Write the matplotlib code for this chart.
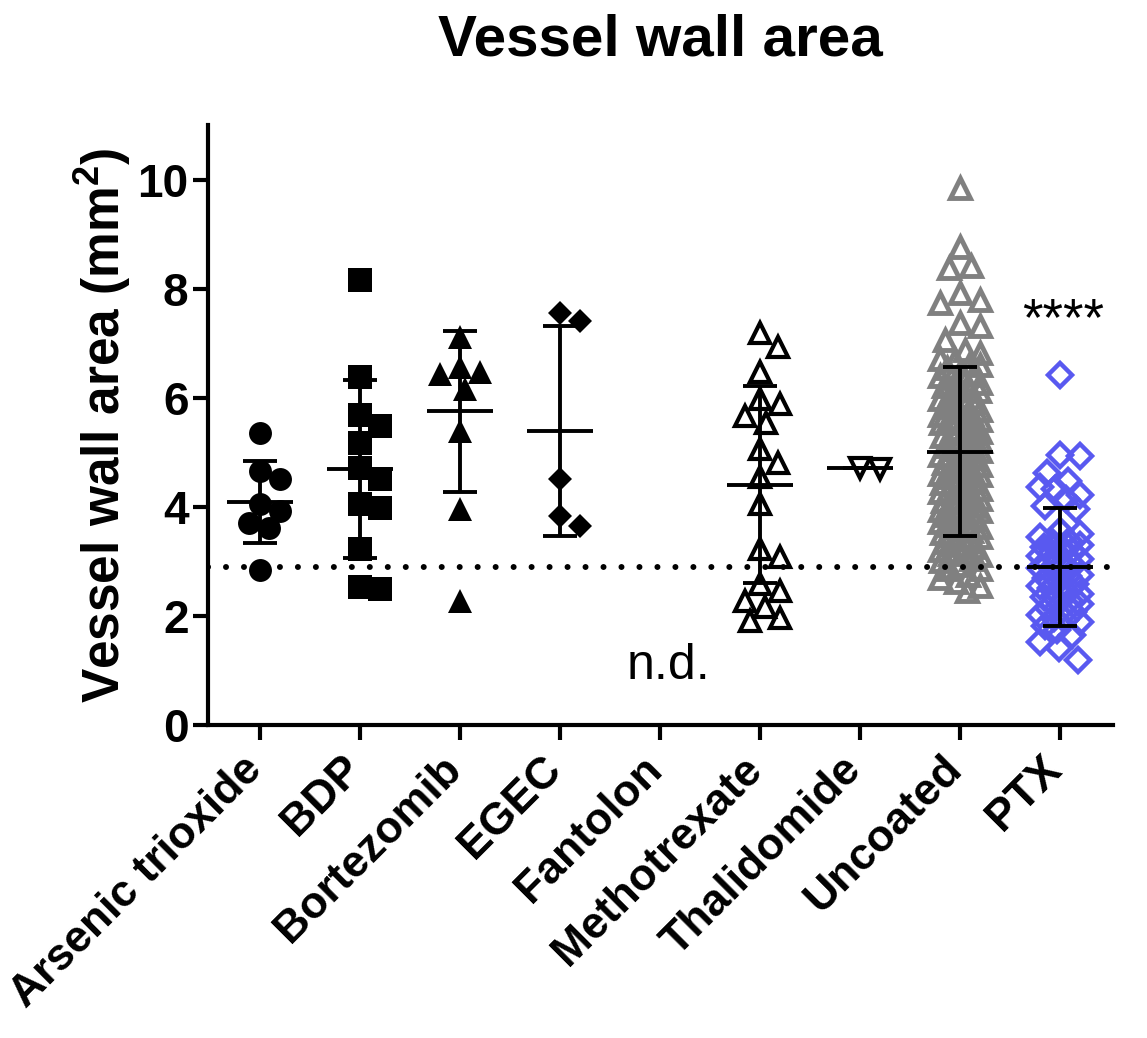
import numpy as np
import matplotlib.pyplot as plt
from matplotlib.transforms import ScaledTranslation

plt.rcParams['font.family'] = ['Liberation Sans', 'DejaVu Sans']
plt.rcParams['mathtext.fontset'] = 'custom'
plt.rcParams['mathtext.bf'] = 'Liberation Sans:bold'
plt.rcParams['mathtext.rm'] = 'Liberation Sans:bold'
plt.rcParams['mathtext.default'] = 'bf'

groups = ["Arsenic trioxide", "BDP", "Bortezomib", "EGEC", "Fantolon",
          "Methotrexate", "Thalidomide", "Uncoated", "PTX"]

arsenic = [5.36, 4.66, 4.51, 4.05, 3.92, 3.70, 3.61, 2.84]
bdp = [8.16, 6.38, 5.69, 5.49, 5.17, 4.71, 4.51, 4.05, 3.98, 3.22, 2.54, 2.49]
bortezomib = [7.11, 6.56, 6.47, 6.44, 6.17, 5.40, 3.96, 2.27]
egec = [7.55, 7.40, 4.51, 3.83, 3.65]
fantolon = []
methotrexate = [7.18, 6.93, 6.47, 5.98, 5.89, 5.67, 5.54, 5.06, 4.81, 4.55,
                4.05, 3.22, 3.09, 2.58, 2.45, 2.27, 2.17, 1.96, 1.90]
thalidomide = [4.70, 4.72]
uncoated = [9.85, 8.77, 8.42, 8.38, 7.92, 7.79, 7.74, 7.37, 7.32, 7.06,
            6.88, 6.83, 6.71, 6.69, 6.60, 6.55, 6.48, 6.41, 6.40, 6.33,
            6.27, 6.22, 6.19, 6.12, 6.04, 6.01, 5.97, 5.93, 5.85, 5.84,
            5.78, 5.71, 5.69, 5.62, 5.55, 5.53, 5.47, 5.42, 5.38, 5.30,
            5.29, 5.24, 5.16, 5.12, 5.10, 5.03, 4.98, 4.95, 4.90, 4.84,
            4.80, 4.77, 4.70, 4.66, 4.61, 4.58, 4.52, 4.47, 4.44, 4.38,
            4.33, 4.31, 4.25, 4.20, 4.16, 4.11, 4.07, 4.01, 3.98, 3.92,
            3.87, 3.85, 3.79, 3.72, 3.70, 3.64, 3.58, 3.52, 3.49, 3.41,
            3.36, 3.27, 3.21, 3.13, 3.12, 3.01, 2.94, 2.87, 2.86, 2.76,
            2.69, 2.63, 2.55, 2.46,
            6.63, 6.36, 6.14, 5.91, 5.74, 5.59, 5.33, 5.20, 5.06, 4.93,
            4.86, 4.73, 4.55, 4.41, 4.28, 4.14, 3.95, 3.81, 3.67, 3.55,
            3.44, 3.30, 3.17, 3.05]
ptx = [6.41, 4.95, 4.93, 4.62, 4.47, 4.36, 4.33, 4.21, 4.15, 4.02, 3.97,
       3.55, 3.51, 3.44, 3.38, 3.30, 3.27, 3.24, 3.15, 3.10, 3.05, 2.98,
       2.93, 2.88, 2.81, 2.76, 2.70, 2.64, 2.58, 2.52, 2.47, 2.41, 2.35,
       2.28, 2.22, 2.15, 2.08, 2.01, 1.93, 1.89, 1.82, 1.74, 1.65, 1.53,
       1.42, 1.20, 3.34, 3.19, 2.96, 2.73, 2.55, 2.31, 2.12, 1.97]

# mean and SD as drawn in the original
means = [4.09, 4.70, 5.75, 5.39, np.nan, 4.41, 4.71, 5.01, 2.90]
sds = [0.75, 1.63, 1.48, 1.93, np.nan, 1.81, 0.0, 1.55, 1.08]

data = [arsenic, bdp, bortezomib, egec, fantolon, methotrexate,
        thalidomide, uncoated, ptx]

blue = '#5959F0'
gray = '#808080'
styles = [
    dict(marker='o', ms=16.5, mfc='k', mec='k', mew=0),
    dict(marker='s', ms=17.5, mfc='k', mec='k', mew=0),
    dict(marker='^', ms=17.5, mfc='k', mec='k', mew=0),
    dict(marker='D', ms=12, mfc='k', mec='k', mew=0),
    None,
    dict(marker='^', ms=14.5, mfc='none', mec='k', mew=3),
    dict(marker='v', ms=14.5, mfc='none', mec='k', mew=3),
    dict(marker='^', ms=15, mfc='none', mec=gray, mew=3.5),
    dict(marker='D', ms=12, mfc='none', mec=blue, mew=3.2),
]

fig = plt.figure(figsize=(11.47, 10.38), dpi=100)
ax = fig.add_axes([0.1813, 0.3015, 0.789, 0.578])
ax.set_xlim(-0.52, 8.53)
ax.set_ylim(0, 11)


def swarm(vals, x0, dist=22.0, max_px=20):
    # simple beeswarm in pixel space, capped width
    vals = np.asarray(vals, dtype=float)
    pts = ax.transData.transform(np.column_stack([np.full(len(vals), x0), vals]))
    ypx = pts[:, 1]
    xoff = np.zeros(len(vals))
    cands = [0] + [s * k for k in range(1, max_px + 1) for s in (1, -1)]
    px, py = [], []
    for i in np.argsort(-vals):
        y = ypx[i]
        best, best_d = 0, -1.0
        for c in cands:
            if px:
                d = np.min(np.hypot(c - np.array(px), y - np.array(py)))
            else:
                d = np.inf
            if d >= dist:
                best = c
                break
            if d > best_d:
                best, best_d = c, d
        px.append(best)
        py.append(y)
        xoff[i] = best
    inv = ax.transData.inverted()
    return inv.transform(np.column_stack([pts[:, 0] + xoff, ypx]))[:, 0]


for i, vals in enumerate(data):
    if len(vals) == 0:
        continue
    xs = swarm(vals, i)
    ax.plot(xs, vals, ls='none', zorder=3, **styles[i])

for i, (m, s) in enumerate(zip(means, sds)):
    if np.isnan(m):
        continue
    ax.hlines(m, i - 0.33, i + 0.33, colors='k', lw=2.8, zorder=4)
    ax.errorbar(i, m, yerr=s, fmt='none', ecolor='k', elinewidth=2.8,
                capsize=12, capthick=2.8, zorder=4)

# reference line at PTX mean
ax.axhline(means[-1], color='k', lw=4.3, ls=(0, (0.01, 3.0)),
           dash_capstyle='round', zorder=5)

ax.text(4.09, 0.85, 'n.d.', fontsize=36, ha='center', va='baseline')
ax.text(8.03, 7.15, '****', fontsize=38, ha='center', va='baseline')

ax.spines['top'].set_visible(False)
ax.spines['right'].set_visible(False)
ax.spines['left'].set_linewidth(3)
ax.spines['bottom'].set_linewidth(3)
ax.tick_params(width=3, length=11, labelsize=33, pad=3)
ax.set_yticks([0, 2, 4, 6, 8, 10])
for lab in ax.get_yticklabels():
    lab.set_fontweight('bold')
ax.set_xticks(range(len(groups)))
ax.set_xticklabels(groups, rotation=45, ha='right', fontsize=32, fontweight='bold')
shift = ScaledTranslation(10 / 100, -4 / 100, fig.dpi_scale_trans)
for lab in ax.get_xticklabels():
    lab.set_transform(lab.get_transform() + shift)

ax.set_ylabel('Vessel wall area (mm$^2$)', fontsize=37, fontweight='bold',
              labelpad=3)
ax.set_title('Vessel wall area', fontsize=42, fontweight='bold', pad=50)

plt.savefig('out.png', dpi=100)
